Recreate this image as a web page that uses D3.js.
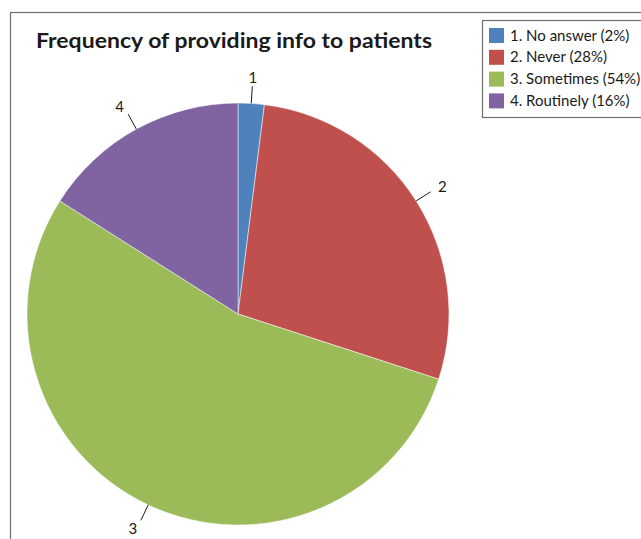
<!DOCTYPE html>
<html>
<head>
<meta charset="utf-8">
<script src="https://cdn.jsdelivr.net/npm/d3@7"></script>
<style>
  body { margin: 0; background: #fff; }
  svg { font-family: Lato, "Open Sans", sans-serif; }
</style>
</head>
<body>
<div id="chart"></div>
<script>
// Chart data
var categories = ["1", "2", "3", "4"];
var legendLabels = ["1. No answer (2%)", "2. Never (28%)", "3. Sometimes (54%)", "4. Routinely (16%)"];
var values = [2, 28, 54, 16];
var colors = ["#4F81BD", "#C0504D", "#9BBB59", "#8064A2"];

var width = 641, height = 539;
var cx = 238, cy = 314, radius = 211;

var svg = d3.select("#chart")
    .append("svg")
    .attr("width", width)
    .attr("height", height);

// Outer chart frame (runs off the right and bottom edges)
svg.append("rect")
    .attr("x", 10.5).attr("y", 12.5)
    .attr("width", 700).attr("height", 600)
    .attr("fill", "none")
    .attr("stroke", "#6e6e6e")
    .attr("stroke-width", 1.2);

// Title
svg.append("text")
    .attr("x", 234).attr("y", 48)
    .attr("text-anchor", "middle")
    .attr("font-size", 20)
    .attr("font-weight", "bold")
    .attr("fill", "#1a1a1a")
    .attr("textLength", 396)
    .attr("lengthAdjust", "spacingAndGlyphs")
    .text("Frequency of providing info to patients");

// Pie
var pie = d3.pie().sort(null).value(function (d) { return d; });
var arcs = pie(values);
var arc = d3.arc().innerRadius(0).outerRadius(radius);

var g = svg.append("g")
    .attr("transform", "translate(" + cx + "," + cy + ")");

g.selectAll("path.slice")
    .data(arcs)
    .enter().append("path")
    .attr("class", "slice")
    .attr("d", arc)
    .attr("fill", function (d, i) { return colors[i]; })
    .attr("stroke", "#fff")
    .attr("stroke-width", 0.5);

// Leader lines and slice labels
function polar(r, a) { return [Math.sin(a) * r, -Math.cos(a) * r]; }

arcs.forEach(function (d, i) {
    var mid = (d.startAngle + d.endAngle) / 2;
    var p0 = polar(radius, mid);
    var p1 = polar(radius + 17, mid);
    var p2 = polar(radius + 26, mid);
    g.append("line")
        .attr("x1", p0[0]).attr("y1", p0[1])
        .attr("x2", p1[0]).attr("y2", p1[1])
        .attr("stroke", "#1a1a1a")
        .attr("stroke-width", 1);
    var anchor = Math.abs(Math.sin(mid)) < 0.3 ? "middle" : (Math.sin(mid) > 0 ? "start" : "end");
    g.append("text")
        .attr("x", p2[0])
        .attr("y", p2[1])
        .attr("dy", "0.35em")
        .attr("text-anchor", anchor)
        .attr("font-size", 15)
        .attr("fill", "#1a1a1a")
        .text(categories[i]);
});

// Legend
var legend = svg.append("g");
legend.append("rect")
    .attr("x", 482.5).attr("y", 20.5)
    .attr("width", 200).attr("height", 97)
    .attr("fill", "#fff")
    .attr("stroke", "#6e6e6e")
    .attr("stroke-width", 1.2);

var items = legend.selectAll("g.item")
    .data(legendLabels)
    .enter().append("g")
    .attr("class", "item")
    .attr("transform", function (d, i) { return "translate(489," + (28 + i * 21.8) + ")"; });

items.append("rect")
    .attr("width", 15).attr("height", 15)
    .attr("fill", function (d, i) { return colors[i]; });

items.append("text")
    .attr("x", 21).attr("y", 12.5)
    .attr("font-size", 15)
    .attr("fill", "#1a1a1a")
    .text(function (d) { return d; });
</script>
</body>
</html>
